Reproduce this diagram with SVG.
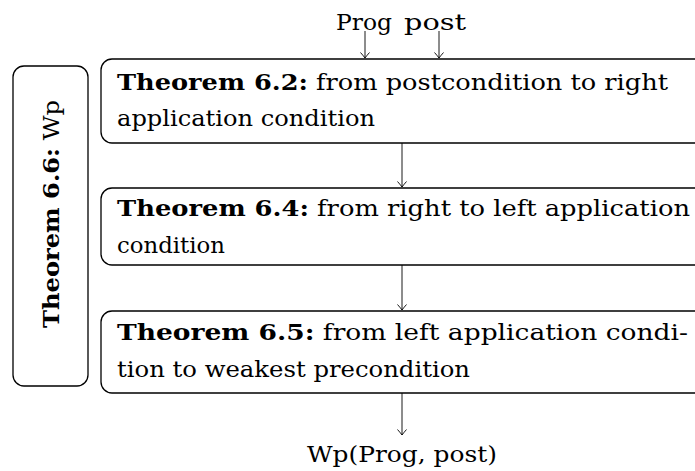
<svg xmlns="http://www.w3.org/2000/svg" width="695" height="471" viewBox="0 0 695 471">
<style>
.box{fill:#fff;stroke:#000;stroke-width:1.3}
.t{font-family:"DejaVu Serif","Liberation Serif",serif;font-size:22.5px;fill:#000}
.b{font-weight:bold}
.c{stroke:#000;stroke-width:0.9;fill:none}
</style>
<defs>
<marker id="ah" viewBox="-6 -5 7 10" markerWidth="7" markerHeight="10" refX="0" refY="0" orient="auto" markerUnits="userSpaceOnUse">
<path d="M-5.5,-4.5 Q-1.5,-1 0,0 Q-1.5,1 -5.5,4.5" fill="none" stroke="#000" stroke-width="0.9"/>
</marker>
</defs>
<g id="connectors">
<line class="c" x1="365" y1="31" x2="365" y2="58" marker-end="url(#ah)"/>
<line class="c" x1="439" y1="31" x2="439" y2="58" marker-end="url(#ah)"/>
<line class="c" x1="402" y1="143" x2="402" y2="187" marker-end="url(#ah)"/>
<line class="c" x1="402" y1="265" x2="402" y2="310" marker-end="url(#ah)"/>
<line class="c" x1="402" y1="393" x2="402" y2="435" marker-end="url(#ah)"/>
</g>
<g id="input">
<text class="t" x="336" y="30" textLength="56" lengthAdjust="spacingAndGlyphs">Prog</text>
<text class="t" x="404" y="30" textLength="62" lengthAdjust="spacingAndGlyphs">post</text>
</g>
<g id="thm66">
<rect class="box" x="13" y="66" width="75" height="320" rx="11"/>
<text class="t" transform="translate(59,328) rotate(-90)" font-size="23.5" textLength="228" lengthAdjust="spacingAndGlyphs"><tspan class="b">Theorem 6.6:</tspan> Wp</text>
</g>
<g id="thm62">
<rect class="box" x="101" y="59" width="610" height="84" rx="11"/>
<text class="t" x="117" y="90" textLength="551" lengthAdjust="spacingAndGlyphs"><tspan class="b">Theorem 6.2:</tspan> from postcondition to right</text>
<text class="t" x="117" y="126" textLength="258" lengthAdjust="spacingAndGlyphs">application condition</text>
</g>
<g id="thm64">
<rect class="box" x="101" y="188" width="610" height="77" rx="11"/>
<text class="t" x="117" y="216" textLength="573" lengthAdjust="spacingAndGlyphs"><tspan class="b">Theorem 6.4:</tspan> from right to left application</text>
<text class="t" x="117" y="253" textLength="108" lengthAdjust="spacingAndGlyphs">condition</text>
</g>
<g id="thm65">
<rect class="box" x="101" y="311" width="610" height="82" rx="11"/>
<text class="t" x="117" y="340" textLength="571" lengthAdjust="spacingAndGlyphs"><tspan class="b">Theorem 6.5:</tspan> from left application condi-</text>
<text class="t" x="117" y="377" textLength="353" lengthAdjust="spacingAndGlyphs">tion to weakest precondition</text>
</g>
<g id="output">
<text class="t" x="307" y="462" textLength="190" lengthAdjust="spacingAndGlyphs">Wp(Prog, post)</text>
</g>
</svg>
